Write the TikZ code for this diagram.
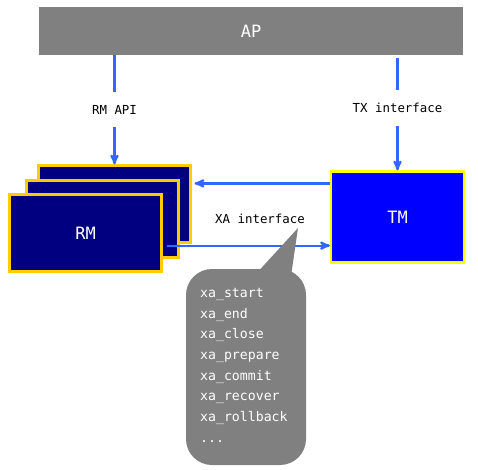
\documentclass[tikz,border=0pt]{standalone}
\usepackage{fontspec}
\setmonofont{DejaVu Sans Mono}
\usetikzlibrary{arrows, positioning}

\definecolor{apgray}{RGB}{128,128,128}
\definecolor{rmnavy}{RGB}{0,0,128}
\definecolor{rmgold}{RGB}{255,204,0}
\definecolor{tmblue}{RGB}{0,0,255}
\definecolor{tmyellow}{RGB}{255,255,0}
\definecolor{linkblue}{RGB}{51,102,255}

\begin{document}
\begin{tikzpicture}[x=1pt, y=-1pt, >=stealth',
    boxtext/.style={text=white, font=\ttfamily\fontsize{17}{20}\selectfont},
    rmbox/.style={boxtext, draw=rmgold, fill=rmnavy, line width=2.2pt,
                  minimum width=152pt, minimum height=77pt, inner sep=0pt},
    tmbox/.style={boxtext, draw=tmyellow, fill=tmblue, line width=2.2pt,
                  minimum width=133pt, minimum height=91pt, inner sep=0pt},
    apbox/.style={boxtext, fill=apgray, minimum width=424pt, minimum height=48pt},
    link/.style={->, draw=linkblue, line width=2.2pt},
    linklabel/.style={fill=white, inner xsep=2pt, inner ysep=13pt,
                      font=\ttfamily\fontsize{12.4}{14}\selectfont},
    calltext/.style={text=white, align=left, inner sep=0pt,
                     font=\ttfamily\fontsize{13.2}{20.7}\selectfont}]
  \useasboundingbox (0,0) rectangle (478,469);

  \node (ap) [apbox] at (251,31) {AP};
  \node (rm3) [rmbox] at (114.5,204) {};
  \node (rm2) [rmbox, below of=rm3, node distance=15pt, xshift=-12pt] {};
  \node (rm1) [rmbox, below of=rm2, node distance=14pt, xshift=-17pt] {RM};
  \node (tm) [tmbox] at (397.5,217) {TM};

  \draw[link] (ap.south -| rm3.north) -- node[linklabel] {RM API} (rm3.north);
  \draw[link, shorten <=3pt] (ap.south -| tm.north) -- node[linklabel, pos=0.46] {TX interface} (tm.north);

  \coordinate (tmout) at ([yshift=-13pt]tm.north west);
  \coordinate (rmout) at ([xshift=4pt, yshift=27pt]rm1.south east);
  \draw[link, shorten >=3pt] (tmout) -- (tmout -| rm3.east);
  \draw[link] (rmout) -- (rmout -| tm.west);

  \node (xa) [linklabel, inner ysep=2pt] at (260,219) {XA interface};

  % call-out with the xa_* calls
  \fill[apgray] (298,228) -- (254,276) -- (291,276) -- cycle;
  \fill[apgray, rounded corners=26pt] (186,269) rectangle (306,465);
  \node (calls) [calltext, anchor=north west] at (200,288)
    {xa\_start\\xa\_end\\xa\_close\\xa\_prepare\\xa\_commit\\xa\_recover\\xa\_rollback\\...};
\end{tikzpicture}
\end{document}
